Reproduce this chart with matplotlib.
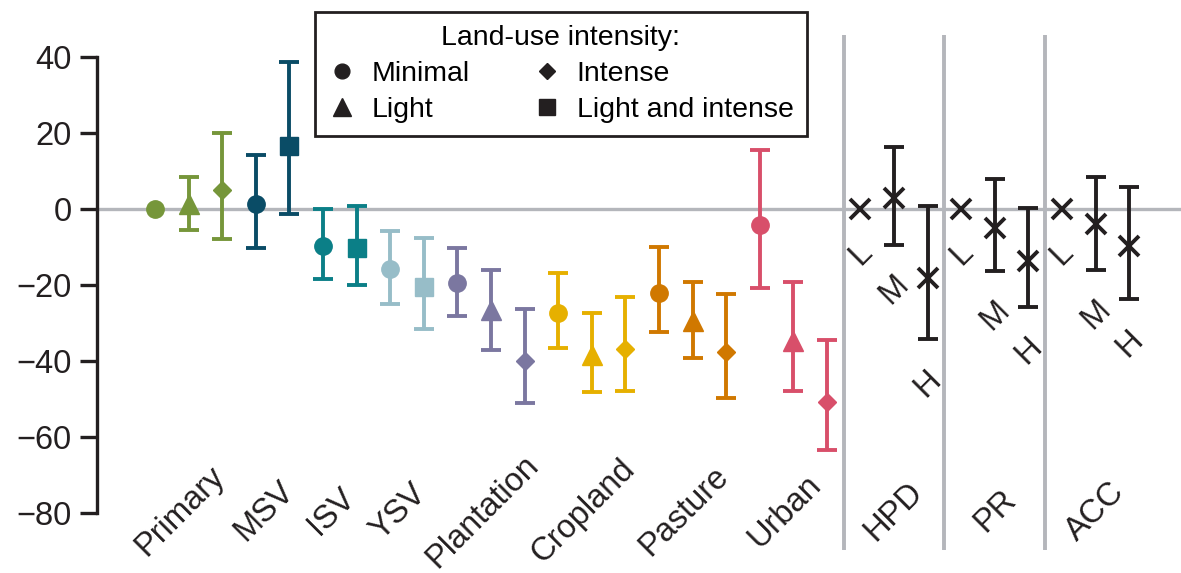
import matplotlib
matplotlib.use("Agg")
import matplotlib.pyplot as plt
from matplotlib.lines import Line2D

plt.rcParams['font.family'] = ['Liberation Sans', 'DejaVu Sans']

# land-use classes: one entry per point
lu_group = ['Primary', 'Primary', 'Primary', 'MSV', 'MSV', 'ISV', 'ISV', 'YSV', 'YSV',
            'Plantation', 'Plantation', 'Plantation', 'Cropland', 'Cropland', 'Cropland',
            'Pasture', 'Pasture', 'Pasture', 'Urban', 'Urban', 'Urban']
lu_intensity = ['Minimal', 'Light', 'Intense', 'Minimal', 'Light and intense',
                'Minimal', 'Light and intense', 'Minimal', 'Light and intense',
                'Minimal', 'Light', 'Intense', 'Minimal', 'Light', 'Intense',
                'Minimal', 'Light', 'Intense', 'Minimal', 'Light', 'Intense']
lu_est = [0.0, 1.3, 5.2, 1.5, 16.8, -9.6, -10.1, -15.8, -20.4,
          -19.4, -26.6, -39.8, -27.3, -38.4, -36.7,
          -22.1, -29.5, -37.6, -4.2, -34.6, -50.6]
lu_lower = [0.0, -5.5, -7.7, -10.1, -1.1, -18.2, -19.9, -25.0, -31.6,
            -28.0, -37.1, -51.0, -36.4, -48.1, -47.8,
            -32.4, -39.2, -49.6, -20.8, -47.8, -63.2]
lu_upper = [0.0, 8.5, 20.2, 14.4, 38.7, 0.0, 0.9, -5.7, -7.5,
            -10.1, -16.0, -26.1, -16.8, -27.2, -23.1,
            -10.0, -19.1, -22.4, 15.7, -19.2, -34.3]

groups = ['Primary', 'MSV', 'ISV', 'YSV', 'Plantation', 'Cropland', 'Pasture', 'Urban']
group_colors = ['#76963a', '#0a4c66', '#0b7f87', '#97bdc8', '#7b77a0', '#e6b000', '#d07800', '#d84f6a']

# pressures (human population density, proportion of roads, accessibility)
pr_groups = ['HPD', 'PR', 'ACC']
pr_levels = ['L', 'M', 'H']
pr_est = [0.0, 3.1, -18.1, 0.0, -4.8, -13.5, 0.0, -3.8, -9.6]
pr_lower = [0.0, -9.4, -34.2, 0.0, -16.2, -25.6, 0.0, -15.9, -23.7]
pr_upper = [0.0, 16.5, 1.0, 0.0, 7.9, 0.4, 0.0, 8.4, 6.0]

intensity_names = ['Minimal', 'Light', 'Intense', 'Light and intense']
intensity_markers = ['o', '^', 'D', 's']
intensity_sizes = [12.5, 15, 9.5, 13.5]

INK = '#231f20'
GREY = '#b4b6bb'
FS = 23.5

fig = plt.figure(figsize=(11.81, 5.73), dpi=100)
ax = fig.add_axes([0.082, 0.0, 0.918, 1.0])
ax.set_xlim(-1.73, 30.54)
ax.set_ylim(-95.7, 55.1)

ax.axhline(0, color=GREY, lw=2.4, zorder=1)

ebkw = dict(capsize=7.5, elinewidth=2.8, capthick=2.8, ls='none', zorder=3)

# land-use points
for i, (g, it, est, lo, hi) in enumerate(zip(lu_group, lu_intensity, lu_est, lu_lower, lu_upper)):
    col = group_colors[groups.index(g)]
    k = intensity_names.index(it)
    if hi > lo:
        ax.errorbar(i, est, yerr=[[est - lo], [hi - est]], color=col, **ebkw)
    ax.plot(i, est, marker=intensity_markers[k], ms=intensity_sizes[k],
            color=col, mec=col, ls='none', zorder=4)

# group labels below
pos = 0
for g in groups:
    n = lu_group.count(g)
    xc = pos + (n - 1) / 2 - 0.25
    ax.text(xc, -79.5, g, rotation=45, ha='center', va='center', fontsize=FS, color=INK)
    pos += n

# pressure panels
start = len(lu_group)
for j, pg in enumerate(pr_groups):
    ax.plot([start + 3 * j - 0.5] * 2, [45.9, -89.7], color=GREY, lw=2.8,
            solid_capstyle='butt', zorder=1)
    for m, lev in enumerate(pr_levels):
        idx = 3 * j + m
        x = start + idx
        est, lo, hi = pr_est[idx], pr_lower[idx], pr_upper[idx]
        if hi > lo:
            ax.errorbar(x, est, yerr=[[est - lo], [hi - est]], color=INK, **ebkw)
        ax.plot(x, est, marker='x', ms=14, mew=2.8, color=INK, ls='none', zorder=4)
        ax.annotate(lev, (x, lo), xytext=(0, -32), textcoords='offset points',
                    rotation=45, ha='center', va='center', fontsize=FS, color=INK)
    ax.text(start + 3 * j + 1, -79.5, pg, rotation=45, ha='center', va='center',
            fontsize=FS, color=INK)

# axes styling
for s in ['top', 'right', 'bottom']:
    ax.spines[s].set_visible(False)
ax.spines['left'].set_bounds(-80, 40)
ax.spines['left'].set_linewidth(2.4)
ax.spines['left'].set_color(INK)
ax.set_yticks(range(-80, 41, 20))
ax.tick_params(axis='y', length=12, width=2.4, color=INK, labelsize=FS,
               labelcolor=INK, pad=6)
ax.set_xticks([])

# legend
handles = [Line2D([], [], marker=mk, ms=sz * 0.85, color=INK, ls='none')
           for mk, sz in zip(intensity_markers, intensity_sizes)]
leg = ax.legend(handles, intensity_names, ncol=2, title='Land-use intensity:',
                loc='upper left', bbox_to_anchor=(315 / 1181, 1 - 12 / 573),
                bbox_transform=fig.transFigure, borderaxespad=0,
                fontsize=20.5, title_fontsize=20.5, frameon=True, fancybox=False,
                edgecolor=INK, framealpha=1, handlelength=1.0, handletextpad=0.55,
                columnspacing=2.2, labelspacing=0.35, borderpad=0.45)
leg.get_frame().set_linewidth(2.0)
leg.set_zorder(5)

fig.savefig('out.png', dpi=100)
